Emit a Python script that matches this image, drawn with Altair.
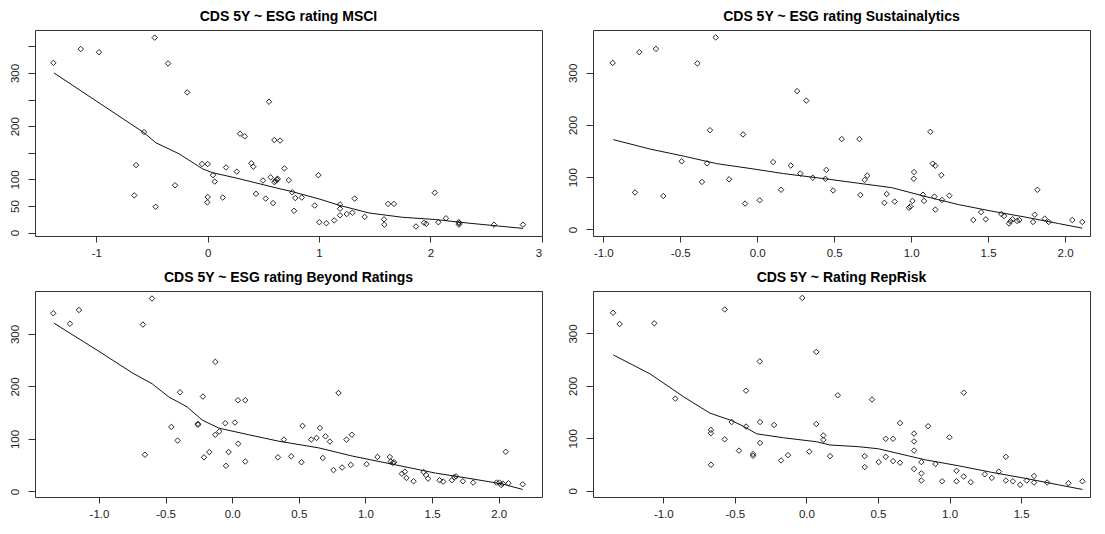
import altair as alt
import pandas as pd

# ---------------- data ----------------
titles = ["CDS 5Y ~ ESG rating MSCI", "CDS 5Y ~ ESG rating Sustainalytics",
          "CDS 5Y ~ ESG rating Beyond Ratings", "CDS 5Y ~ Rating RepRisk"]

msci_x = [-1.386, -1.14, -0.976, -0.476, -0.356, -0.183, -0.572, -0.643, -0.659, -0.467, -0.293,
          -0.051, 0.0, 0.048, 0.063, 0.0, -0.003, 0.135, 0.165, 0.261, 0.29, 0.333, 0.392, 0.41,
          0.434, 0.497, 0.521, 0.551, 0.566, 0.587, 0.599, 0.599, 0.62, 0.65, 0.689, 0.61, 0.63,
          0.728, 0.76, 0.787, 0.845, 0.776, 0.994, 0.961, 1.003, 1.066, 1.137, 1.189, 1.189, 1.189,
          1.249, 1.3, 1.32, 1.41, 1.584, 1.587, 1.62, 1.673, 1.871, 1.943, 1.964, 2.04, 2.072, 2.14,
          2.255, 2.257, 2.26, 2.572, 2.832]
msci_y = [319, 345, 339, 366.5, 318, 263.6, 189, 127, 70, 48.6, 89,
          129, 129, 108, 96, 67, 57, 66, 122.5, 114.6, 186, 181, 130.5, 124,
          73, 98, 64, 246, 104, 55.5, 174, 95, 100, 173, 120.7, 97, 101,
          98.5, 75.8, 65, 66, 41, 108, 51, 19.6, 17.7, 23, 53, 45, 32.5,
          35, 37.5, 64, 29.6, 25, 15, 54, 54, 11.6, 18.5, 16.6, 75, 19.6, 27,
          19.6, 15, 17.7, 15, 15]
msci_line_x = [-1.38, -0.572, -0.466, -0.256, -0.047, 0.043, 0.253, 0.612, 0.76, 1.0, 1.189,
               1.449, 1.748, 2.048, 2.347, 2.832]
msci_line_y = [300, 187.8, 169, 148, 120, 112.7, 102.8, 84.3, 77, 63.4, 51,
               37, 28.9, 24.6, 17.8, 8]

sust_x = [-0.939, -0.766, -0.658, -0.27, -0.389, 0.259, 0.319, -0.307, -0.092, -0.491, -0.326,
          0.103, 0.218, 0.28, 0.361, 0.443, 0.449, -0.794, -0.61, -0.359, -0.183, -0.079, 0.016,
          0.155, 0.493, 0.549, 0.664, 0.67, 0.698, 0.715, 0.826, 0.841, 0.893, 0.986, 0.995, 1.008,
          1.017, 1.019, 1.077, 1.084, 1.125, 1.14, 1.157, 1.151, 1.157, 1.196, 1.2, 1.248, 1.404,
          1.454, 1.485, 1.586, 1.604, 1.636, 1.645, 1.658, 1.688, 1.703, 1.792, 1.803, 1.82, 1.868,
          1.894, 2.047, 2.112]
sust_y = [319, 339.5, 345.8, 367.8, 318, 264.8, 246.7, 190, 182, 130.5, 126.7,
          129, 122.4, 107, 99, 97, 114, 70.8, 64, 91, 96, 49.5, 55.8,
          76, 74.6, 173, 173, 66, 95, 103, 51, 67.8, 53.3, 41.4, 43.9, 54.6,
          97, 109.8, 66.5, 54.6, 187, 126, 122, 63, 38, 104, 56.5, 64.6, 18,
          33, 19.4, 29.4, 25.6, 11.3, 15.6, 19.4, 16.2, 18, 14.3, 28.2, 75.9, 20.7,
          14.3, 18, 14.3]
sust_line_x = [-0.935, -0.697, -0.48, -0.263, -0.047, 0.17, 0.452, 0.657, 0.874, 1.09, 1.307,
               1.524, 1.74, 1.957, 2.112]
sust_line_y = [172, 154, 140.5, 126, 116.8, 107, 96.6, 88.5, 80, 63.3, 47.6,
               35, 23.7, 11.3, 2.4]

beyond_x = [-1.343, -1.218, -1.15, -0.602, -0.67, -0.127, -0.392, -0.22, 0.043, 0.098, -0.457,
            -0.257, -0.257, -0.052, 0.02, -0.41, -0.127, -0.097, 0.045, -0.655, -0.212, -0.172,
            -0.027, -0.047, 0.098, 0.343, 0.388, 0.443, 0.52, 0.528, 0.593, 0.633, 0.658, 0.68,
            0.7, 0.733, 0.76, 0.798, 0.825, 0.858, 0.89, 0.898, 1.008, 1.09, 1.183, 1.19, 1.205,
            1.215, 1.273, 1.296, 1.308, 1.361, 1.436, 1.455, 1.47, 1.556, 1.583, 1.648, 1.666,
            1.68, 1.731, 1.808, 1.983, 2.006, 2.018, 2.03, 2.053, 2.073, 2.18]
beyond_y = [339.6, 319.6, 345.8, 367.7, 318, 247, 189, 180.8, 173.8, 173.8, 123,
            128.8, 127, 130, 131.3, 97, 108, 114.4, 91, 70, 65, 75,
            75, 48.8, 57, 65, 98.8, 67, 55.6, 125, 98.8, 102, 121, 63.8,
            105, 95, 40.7, 187.6, 45.6, 98.8, 50.6, 108, 52, 65.7, 65.7, 57, 54.4,
            55.7, 33.8, 37.5, 25.7, 19.4, 37, 31.3, 24.4, 21.3, 18.8, 21.3, 26.9,
            28.8, 19.4, 16.9, 16.9, 16.9, 12.5, 15, 75.6, 15.6, 13.7]
beyond_line_x = [-1.338, -1.0, -0.75, -0.6, -0.475, -0.338, -0.225, -0.1, 0.125, 0.35, 0.65,
                 0.9, 1.2, 1.525, 1.775, 2.025, 2.18]
beyond_line_y = [320.8, 267, 226, 205, 180, 161, 136, 120.6, 108, 95.7, 83,
                 67.5, 52, 35, 25, 14.4, 3.8]

rep_x = [-1.351, -1.305, -1.063, -0.571, -0.029, -0.326, 0.069, -0.916, -0.422, -0.522, -0.324,
         -0.422, -0.226, 0.069, -0.667, -0.667, -0.571, 0.118, 0.118, -0.324, -0.471, -0.373,
         -0.373, -0.667, -0.177, -0.129, 0.02, 0.165, 0.219, 0.407, 0.407, 0.458, 0.505, 0.554,
         0.554, 0.605, 0.605, 0.654, 0.654, 0.752, 0.752, 0.752, 0.752, 0.803, 0.803, 0.803, 0.85,
         0.901, 0.948, 0.999, 1.048, 1.048, 1.099, 1.099, 1.148, 1.246, 1.295, 1.344, 1.393, 1.393,
         1.442, 1.493, 1.539, 1.59, 1.59, 1.681, 1.83, 1.928]
rep_y = [339.5, 318, 319.4, 345.8, 367.8, 246.7, 264.8, 175.7, 190.8, 131, 131,
         122.4, 125.4, 127.3, 116, 109.8, 98, 105.5, 97, 91, 76.5, 70,
         66.5, 49.5, 57.7, 67.8, 74.6, 66, 182, 66, 45, 174, 54.6, 99,
         64.6, 99, 56.5, 129, 53.3, 109, 94, 76.5, 41.4, 54.6, 33, 19.4, 123,
         51, 18, 102, 38, 18, 187, 27, 16.3, 31.3, 24.4, 36.4, 64.6, 19.4,
         18, 11.3, 19.4, 28.2, 15.6, 15.6, 14.3, 18]
rep_line_x = [-1.349, -1.093, -0.86, -0.674, -0.522, -0.441, -0.347, -0.161, 0.072, 0.165, 0.363,
              0.503, 0.712, 0.829, 1.062, 1.295, 1.528, 1.76, 1.928]
rep_line_y = [259, 223, 179.5, 148, 133.7, 123, 108.5, 101, 93.4, 87.2, 84,
              80, 66.5, 59, 47.6, 35, 23.7, 11.3, 2.4]

# axis ticks
msci_xticks = [-1, 0, 1, 2, 3]
msci_yticks = [0, 50, 100, 150, 200, 250, 300, 350]
msci_ylabels = [0, 50, 100, 200, 300]
half_ticks = [-1.0, -0.5, 0.0, 0.5, 1.0, 1.5, 2.0]
hundred_ticks = [0, 100, 200, 300]

INK = "#111111"
AXIS = "#333333"
FONT = "Liberation Sans"
PANEL_H = 206


def panel(title, px, py, lx, ly, xdom, ydom, xticks, xfmt, yticks, ylabels, width, height=PANEL_H):
    pts = pd.DataFrame({"x": px, "y": py})
    ln = pd.DataFrame({"x": lx, "y": ly})
    xs = alt.Scale(domain=xdom, nice=False, zero=False)
    ys = alt.Scale(domain=ydom, nice=False, zero=False)
    xexpr = ("datum.value < 0 ? '-' + format(-datum.value, '%s') : format(datum.value, '%s')"
             % (xfmt, xfmt))
    lab = ",".join(str(v) for v in ylabels)
    yexpr = "indexof([%s], datum.value) >= 0 ? format(datum.value, 'd') : ''" % lab
    common = dict(title=None, grid=False, domain=False, ticks=True, tickColor=AXIS,
                  tickWidth=1, labelFont=FONT, labelFontSize=11.5,
                  labelColor="#222222")
    xa = alt.Axis(values=xticks, labelExpr=xexpr, tickSize=6, labelPadding=5, **common)
    ya = alt.Axis(values=yticks, labelExpr=yexpr, labelAngle=-90, labelAlign="center",
                  labelBaseline="bottom", tickSize=7, labelPadding=8, **common)
    p = alt.Chart(pts).mark_point(shape="diamond", filled=False, size=30,
                                  color=INK, strokeWidth=0.9, opacity=1).encode(
        x=alt.X("x:Q", scale=xs, axis=xa),
        y=alt.Y("y:Q", scale=ys, axis=ya))
    l = alt.Chart(ln).mark_line(color=INK, strokeWidth=1).encode(
        x=alt.X("x:Q", scale=xs, axis=xa), y=alt.Y("y:Q", scale=ys, axis=ya))
    return alt.layer(p, l).properties(width=width, height=height, title=title)


c1 = panel(titles[0], msci_x, msci_y, msci_line_x, msci_line_y, [-1.551, 3.003], [-6.3, 380.8],
           msci_xticks, "d", msci_yticks, msci_ylabels, 507)
c2 = panel(titles[1], sust_x, sust_y, sust_line_x, sust_line_y, [-1.067, 2.162], [-12.6, 382],
           half_ticks, ".1f", hundred_ticks, hundred_ticks, 497)
c3 = panel(titles[2], beyond_x, beyond_y, beyond_line_x, beyond_line_y, [-1.48, 2.325], [-10.6, 382],
           half_ticks, ".1f", hundred_ticks, hundred_ticks, 507)
c4 = panel(titles[3], rep_x, rep_y, rep_line_x, rep_line_y, [-1.491, 1.981], [-12, 381],
           half_ticks, ".1f", hundred_ticks, hundred_ticks, 497)

chart = alt.concat(c1, c2, c3, c4, columns=2, spacing={"row": 55, "column": 51},
                   bounds="flush").properties(
    padding={"left": 0, "top": 1, "right": 0, "bottom": 0},
    background="white"
).configure_view(
    stroke=AXIS, strokeWidth=1
).configure_title(
    font=FONT, fontSize=14, fontWeight="bold", color="#000000", anchor="middle", offset=6
)

chart.save("out.html", embed_options={"renderer": "svg", "actions": False})
